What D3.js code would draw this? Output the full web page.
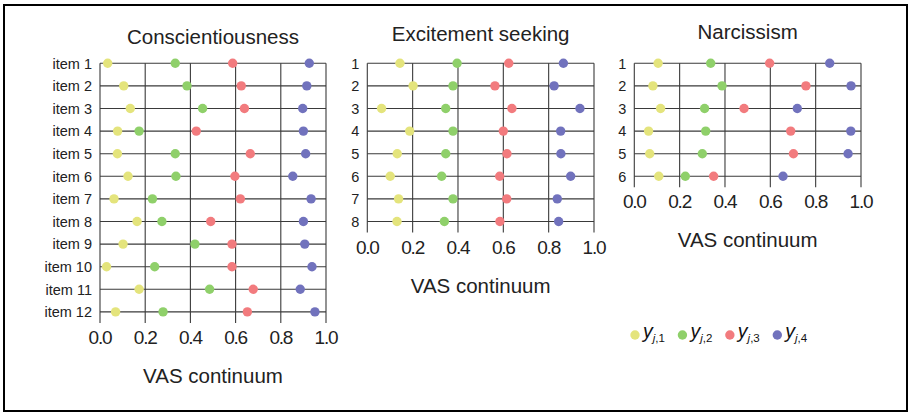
<!DOCTYPE html>
<html>
<head>
<meta charset="utf-8">
<script src="https://cdn.jsdelivr.net/npm/d3@7"></script>
<style>
  html, body { margin: 0; padding: 0; background: #fff; }
  svg { display: block; font-family: "Liberation Sans", Arial, Helvetica, sans-serif; }
</style>
</head>
<body>
<svg id="chart" width="909" height="413"></svg>
<script>
// ---- data -------------------------------------------------------------
const categoryNames = ["1", "2", "3", "4"];
const xTicks = [0, 0.2, 0.4, 0.6, 0.8, 1.0];

const consItems = ["item 1", "item 2", "item 3", "item 4", "item 5", "item 6",
                   "item 7", "item 8", "item 9", "item 10", "item 11", "item 12"];
const consY1 = [0.034, 0.105, 0.134, 0.078, 0.077, 0.124, 0.062, 0.164, 0.102, 0.029, 0.173, 0.069];
const consY2 = [0.333, 0.385, 0.454, 0.173, 0.333, 0.336, 0.232, 0.274, 0.420, 0.242, 0.485, 0.279];
const consY3 = [0.587, 0.625, 0.639, 0.426, 0.665, 0.597, 0.621, 0.490, 0.584, 0.584, 0.678, 0.652];
const consY4 = [0.926, 0.915, 0.897, 0.900, 0.910, 0.853, 0.934, 0.900, 0.906, 0.938, 0.886, 0.951];

const exciteItems = ["1", "2", "3", "4", "5", "6", "7", "8"];
const exciteY1 = [0.144, 0.202, 0.063, 0.187, 0.132, 0.101, 0.138, 0.131];
const exciteY2 = [0.396, 0.378, 0.346, 0.378, 0.346, 0.328, 0.378, 0.340];
const exciteY3 = [0.624, 0.563, 0.638, 0.600, 0.616, 0.584, 0.615, 0.585];
const exciteY4 = [0.865, 0.824, 0.938, 0.853, 0.854, 0.897, 0.838, 0.844];

const narcItems = ["1", "2", "3", "4", "5", "6"];
const narcY1 = [0.105, 0.082, 0.116, 0.063, 0.068, 0.108];
const narcY2 = [0.337, 0.387, 0.310, 0.315, 0.300, 0.225];
const narcY3 = [0.597, 0.757, 0.484, 0.690, 0.702, 0.350];
const narcY4 = [0.862, 0.956, 0.719, 0.955, 0.943, 0.656];

// ---- layout -----------------------------------------------------------
const colors = ["#e4e47c", "#8fd06a", "#f27b7e", "#7172bd"];
const rowStep = 22.6;
const rowTop = 63.3;

const panels = [
  { title: "Conscientiousness", items: consItems, series: [consY1, consY2, consY3, consY4],
    x0: 100, x1: 326, titleY: 44 },
  { title: "Excitement seeking", items: exciteItems, series: [exciteY1, exciteY2, exciteY3, exciteY4],
    x0: 367.3, x1: 594, titleY: 41 },
  { title: "Narcissism", items: narcItems, series: [narcY1, narcY2, narcY3, narcY4],
    x0: 634.3, x1: 861, titleY: 39 }
];

const svg = d3.select("#chart");

// outer frame
svg.append("rect")
  .attr("x", 4).attr("y", 5).attr("width", 903).attr("height", 406)
  .attr("fill", "none").attr("stroke", "#000").attr("stroke-width", 2);

panels.forEach(p => {
  const x = d3.scaleLinear().domain([0, 1]).range([p.x0, p.x1]);
  const last = rowTop + rowStep * (p.items.length - 1);
  const y = d3.scalePoint().domain(p.items).range([rowTop, last]);
  const bottom = last + 11;
  const g = svg.append("g");
  const cx = (p.x0 + p.x1) / 2;

  // title
  g.append("text")
    .attr("x", cx).attr("y", p.titleY)
    .attr("text-anchor", "middle")
    .attr("font-size", 20.5).attr("fill", "#222")
    .text(p.title);

  // horizontal row lines
  g.selectAll(".row").data(p.items).enter().append("line")
    .attr("x1", x(0)).attr("x2", x(1))
    .attr("y1", d => y(d)).attr("y2", d => y(d))
    .attr("stroke", "#3a3a3a").attr("stroke-width", 1.1);

  // vertical grid lines (extend below last row as ticks)
  g.selectAll(".vgrid").data(xTicks).enter().append("line")
    .attr("x1", d => x(d)).attr("x2", d => x(d))
    .attr("y1", rowTop).attr("y2", bottom)
    .attr("stroke", "#3a3a3a").attr("stroke-width", 1.1);

  // row labels
  g.selectAll(".rlab").data(p.items).enter().append("text")
    .attr("x", p.x0 - 8).attr("y", d => y(d))
    .attr("dy", "0.36em")
    .attr("text-anchor", "end")
    .attr("font-size", 14.5).attr("fill", "#222")
    .text(d => d);

  // x tick labels
  g.selectAll(".xlab").data(xTicks).enter().append("text")
    .attr("x", d => x(d)).attr("y", bottom + 21)
    .attr("text-anchor", "middle")
    .attr("font-size", 19).attr("letter-spacing", -1.2)
    .attr("fill", "#222")
    .text(d => d3.format(".1f")(d));

  // x axis title
  g.append("text")
    .attr("x", cx).attr("y", bottom + 60)
    .attr("text-anchor", "middle")
    .attr("font-size", 20.5).attr("fill", "#222")
    .text("VAS continuum");

  // dots
  p.series.forEach((vals, k) => {
    g.selectAll(".dot" + k).data(vals).enter().append("circle")
      .attr("cx", d => x(d))
      .attr("cy", (d, i) => y(p.items[i]))
      .attr("r", 4.7)
      .attr("fill", colors[k]);
  });
});

// legend
const legendX = d3.scalePoint().domain(categoryNames).range([635, 777.3]);
const lg = svg.append("g");
categoryNames.forEach((c, k) => {
  const lx = legendX(c);
  lg.append("circle").attr("cx", lx).attr("cy", 335).attr("r", 4.7).attr("fill", colors[k]);
  const t = lg.append("text").attr("x", lx + 8).attr("y", 338).attr("fill", "#111");
  t.append("tspan").attr("font-size", 19.5).attr("font-style", "italic").text("y");
  t.append("tspan").attr("font-size", 11.5).attr("font-style", "italic").attr("dy", 4).text("j");
  t.append("tspan").attr("font-size", 11.5).text("," + c);
});
</script>
</body>
</html>
